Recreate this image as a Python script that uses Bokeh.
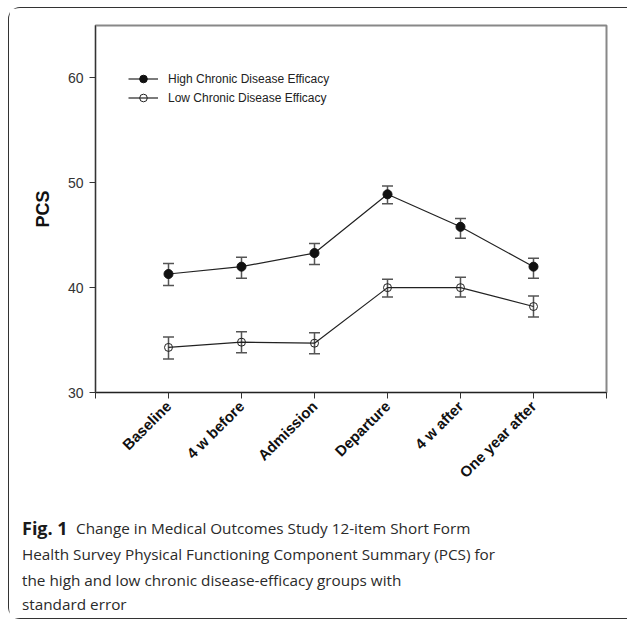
import math
from bokeh.plotting import figure
from bokeh.layouts import column
from bokeh.models import (FixedTicker, Legend, LegendItem, Whisker,
                          ColumnDataSource, TeeHead, Range1d)
from bokeh.embed import file_html
from bokeh.resources import INLINE
from bokeh.core.properties import value

# ---- data ----
categories = ["Baseline", "4 w before", "Admission", "Departure", "4 w after", "One year after"]
high_mean = [41.3, 42.0, 43.3, 48.9, 45.8, 42.0]
high_lower = [40.2, 40.9, 42.2, 48.0, 44.7, 40.9]
high_upper = [42.3, 42.9, 44.2, 49.7, 46.6, 42.8]
low_mean = [34.3, 34.8, 34.7, 40.0, 40.0, 38.2]
low_lower = [33.2, 33.8, 33.7, 39.1, 39.1, 37.2]
low_upper = [35.3, 35.8, 35.7, 40.8, 41.0, 39.2]
y_ticks = [30, 40, 50, 60]
series_names = ["High Chronic Disease Efficacy", "Low Chronic Disease Efficacy"]
y_label = "PCS"
caption_bold = "Fig. 1"
caption_lines = [
    "Change in Medical Outcomes Study 12-item Short Form",
    "Health Survey Physical Functioning Component Summary (PCS) for",
    "the high and low chronic disease-efficacy groups with",
    "standard error",
]

xs = list(range(1, len(categories) + 1))
x_ticks = list(range(0, len(categories) + 2))

W = 618
p = figure(width=W, height=497,
           x_range=Range1d(0, len(categories) + 1), y_range=Range1d(30, 65),
           output_backend="svg", toolbar_location=None,
           min_border_left=86, min_border_right=21,
           min_border_top=17, min_border_bottom=113)
p.frame_align = False
p.background_fill_color = "white"
p.border_fill_color = "white"
p.outline_line_color = "#888888"
p.outline_line_width = 2
p.xgrid.visible = False
p.ygrid.visible = False

# y axis
ya = p.yaxis[0]
ya.ticker = FixedTicker(ticks=y_ticks)
ya.minor_tick_line_color = None
ya.major_tick_in = 0
ya.major_tick_out = 6
ya.axis_line_color = "#333333"
ya.major_tick_line_color = "#333333"
ya.major_label_text_font = "Liberation Sans"
ya.major_label_text_font_size = "14px"
ya.major_label_text_color = "#333333"
ya.major_label_standoff = 6
ya.axis_label = y_label
ya.axis_label_text_font = "Liberation Sans"
ya.axis_label_text_font_style = "bold"
ya.axis_label_text_font_size = "18px"
ya.axis_label_text_color = "#111111"
ya.axis_label_standoff = 12

# x axis
xa = p.xaxis[0]
xa.ticker = FixedTicker(ticks=x_ticks)
xa.major_label_overrides = {t: (categories[t - 1] if 1 <= t <= len(categories) else "") for t in x_ticks}
xa.minor_tick_line_color = None
xa.major_tick_in = 0
xa.major_tick_out = 6
xa.axis_line_color = "#222222"
xa.major_tick_line_color = "#333333"
xa.major_label_orientation = math.pi / 4
xa.major_label_text_font = "Liberation Sans"
xa.major_label_text_font_style = "bold"
xa.major_label_text_font_size = "15px"
xa.major_label_text_color = "#111111"
xa.major_label_standoff = 5

# error bars
src_h = ColumnDataSource(dict(x=xs, m=high_mean, lo=high_lower, hi=high_upper))
src_l = ColumnDataSource(dict(x=xs, m=low_mean, lo=low_lower, hi=low_upper))
for src in (src_h, src_l):
    w = Whisker(source=src, base="x", lower="lo", upper="hi",
                line_color="#555555", line_width=1.5,
                upper_head=TeeHead(size=11, line_color="#555555", line_width=1.5),
                lower_head=TeeHead(size=11, line_color="#555555", line_width=1.5))
    p.add_layout(w)

lh = p.line("x", "m", source=src_h, line_color="#222222", line_width=1.2)
sh = p.scatter("x", "m", source=src_h, size=9, fill_color="#111111", line_color="#111111")
ll = p.line("x", "m", source=src_l, line_color="#222222", line_width=1.2)
sl = p.scatter("x", "m", source=src_l, size=8, fill_color=None, line_color="#222222", line_width=1)

legend = Legend(items=[LegendItem(label=series_names[0], renderers=[lh, sh]),
                       LegendItem(label=series_names[1], renderers=[ll, sl])],
                location=(33, 285), padding=0, margin=0, spacing=0,
                glyph_width=30, glyph_height=19, label_height=19,
                label_standoff=10, border_line_color=None,
                background_fill_alpha=0,
                label_text_font="Liberation Sans", label_text_font_size="12px",
                label_text_color="#222222")
p.add_layout(legend)

# caption panel (pixel coordinates, y downward)
CH = 113
cap = figure(width=W, height=CH, x_range=Range1d(0, W), y_range=Range1d(CH, 0),
             output_backend="svg", toolbar_location=None,
             min_border=0, min_border_left=0, min_border_right=0,
             min_border_top=0, min_border_bottom=0)
cap.frame_align = False
cap.axis.visible = False
cap.grid.visible = False
cap.outline_line_color = None
cap.background_fill_color = "white"
cap.border_fill_color = "white"

cap_font = "Open Sans"
cap_size = "15.3px"
cap_x = 12.5
cap_y = [22.5, 48.5, 74.5, 98.5]
cap.text(x=[cap_x], y=[cap_y[0]], text=[caption_bold], text_font=value(cap_font),
         text_font_style="bold", text_font_size="18px", text_color="#1a1a1a",
         text_baseline="middle")
cap.text(x=[66.5], y=[cap_y[0]], text=[caption_lines[0]], text_font=value(cap_font),
         text_font_size=cap_size, text_color="#2a2a2a", text_baseline="middle")
cap.text(x=[cap_x] * 3, y=cap_y[1:], text=caption_lines[1:], text_font=value(cap_font),
         text_font_size=cap_size, text_color="#2a2a2a", text_baseline="middle")

layout = column(p, cap, spacing=0, margin=(7, 0, 0, 8))
layout.styles = {"border": "1.5px solid #333", "border-right": "none",
                 "border-radius": "12px 0 0 12px"}

open("out.html", "w").write(file_html(layout, INLINE))
